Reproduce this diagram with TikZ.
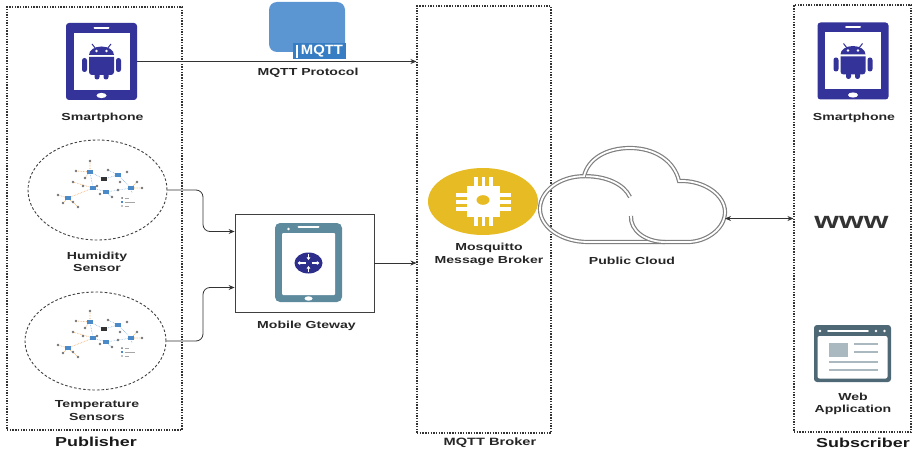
\documentclass[tikz,border=0pt]{standalone}
\usepackage{fontspec}
\setmainfont{Liberation Sans}[FakeStretch=1.38]
\newfontfamily\iconfont{Liberation Sans}[FakeStretch=1.1]
\usetikzlibrary{shapes.geometric,arrows.meta}

\definecolor{droid}{RGB}{51,51,153}
\definecolor{slate}{RGB}{94,138,158}
\definecolor{webslate}{RGB}{78,104,117}
\definecolor{webgrey}{RGB}{170,184,191}
\definecolor{mqttblue}{RGB}{92,150,210}
\definecolor{mqtttab}{RGB}{55,125,195}
\definecolor{gold}{RGB}{230,187,35}
\definecolor{navy}{RGB}{45,45,140}
\definecolor{netblue}{RGB}{74,138,200}
\definecolor{netorange}{RGB}{240,160,80}

\tikzset{
  frame/.style={draw=black!80, line width=1.1pt, dash pattern=on 1.4pt off 1.3pt},
  sensorzone/.style={ellipse, draw=black!75, line width=0.9pt, dash pattern=on 2.6pt off 2pt},
  lbl/.style={font=\bfseries\fontsize{10.2}{12.4}\selectfont, align=center, text=black!85, inner sep=0pt},
  biglbl/.style={font=\bfseries\fontsize{13}{15}\selectfont, inner sep=0pt, text=black!90},
  link/.style={draw=black!80, line width=0.8pt, -{Stealth[length=6pt,width=5pt]}},
  twoway/.style={draw=black!80, line width=0.8pt, {Stealth[length=6pt,width=5pt]}-{Stealth[length=6pt,width=5pt]}},
  cloudline/.style={draw=black!50, line width=1.2pt, double=white, double distance=1.8pt},
  ghost/.style={inner sep=0pt, outer sep=0pt},
  % tablet with the android robot
  android/.pic={
    \fill[droid, rounded corners=3pt] (-35.5,-38.5) rectangle (35.5,38.5);
    \fill[white] (-28,-28.5) rectangle (28,28.5);
    \draw[white, line width=2pt, line cap=round] (-7,-33.5) -- (7,-33.5);
    \fill[white] (0,34) ellipse [x radius=5, y radius=2.6];
    \fill[droid] (-12.5,-6.5) arc [start angle=180, end angle=360, x radius=12.5, y radius=8.5] -- cycle;
    \fill[white] (-5,-10.5) circle [radius=1.4] (5,-10.5) circle [radius=1.4];
    \draw[droid, line width=1pt] (-6,-13) -- (-9.5,-17.5) (6,-13) -- (9.5,-17.5);
    \fill[droid] (-12.5,-4.5) -- (12.5,-4.5) [rounded corners=3pt] -- (12.5,13.5) -- (-12.5,13.5) [sharp corners] -- cycle;
    \fill[droid, rounded corners=2.4pt] (-19.5,-3.5) rectangle (-14.5,10.5) (14.5,-3.5) rectangle (19.5,10.5);
    \fill[droid, rounded corners=2.4pt] (-7,10) rectangle (-2,18) (2,10) rectangle (7,18);
  },
  % phone acting as gateway, with the router glyph
  gatewayphone/.pic={
    \fill[slate, rounded corners=5pt] (-33.5,-39.5) rectangle (33.5,39.5);
    \fill[white, rounded corners=1pt] (-26.5,-29.5) rectangle (26.5,32.5);
    \draw[white, line width=2pt, line cap=round] (-10,-36) -- (10,-36);
    \fill[white] (-20,-33.5) circle [radius=1.3];
    \fill[white] (0,36) ellipse [x radius=4, y radius=2.2];
    \fill[navy] (0,0.5) ellipse [x radius=14, y radius=10.5];
    \draw[white, line width=1.1pt, -{Triangle[length=2.6pt,width=3.6pt]}] (0,-8.5) -- (0,-2.5);
    \draw[white, line width=1.1pt, -{Triangle[length=2.6pt,width=3.6pt]}] (0,9.5) -- (0,3.5);
    \draw[white, line width=1.1pt, -{Triangle[length=2.6pt,width=3.6pt]}] (-3,0.5) -- (-11,0.5);
    \draw[white, line width=1.1pt, -{Triangle[length=2.6pt,width=3.6pt]}] (3,0.5) -- (11,0.5);
  },
  % small sensor network sketch
  sensornet/.pic={
    \draw[netorange, densely dotted, line width=0.6pt]
      (-7,-18) -- (-7,-29) (-7,-18) -- (-21,-19) (-7,-18) -- (-12,-12)
      (-29,8) -- (-4,-2) (-29,8) -- (-19,17) (-29,8) -- (-39,5) (-29,8) -- (-34,13)
      (-4,-2) -- (-24,-8) (34,-2) -- (40,-8) (34,-2) -- (45,-2);
    \draw[netblue!70, densely dotted, line width=0.6pt]
      (-7,-18) -- (-4,-2) -- (9,2) -- (34,-2) -- (21,-15) -- (7,-11) -- (-7,-18)
      (9,2) -- (15,7) (21,-15) -- (11,-20) (34,-2) -- (35,3);
    \foreach \x/\y in {-7/-29,-21/-19,-12/-12,11/-20,30/-18,-24/-8,-14/-4,0/-4,3/4,15/7,21/0,40/-8,45/-2,-39/5,-34/13,-19/17,-24/12,23/-8}
      \fill[black!55, shift={(\x,\y)}] (0,0) circle [radius=1.4];
    \foreach \x/\y in {-7/-18,21/-15,-4/-2,9/2,34/-2,-29/8}
      \fill[netblue, shift={(\x,\y)}] (-2.8,-2.2) rectangle (2.8,2.2);
    \fill[black!80, shift={(7,-11)}] (-2.8,-2.2) rectangle (2.8,2.2);
    \fill[black!60] (25,8) circle [radius=1];
    \fill[netblue] (24,11) rectangle (26,13);
    \fill[black!50] (25,16) circle [radius=0.8];
    \draw[black!35, line width=0.4pt] (28,8) -- (32,8) (28,12) -- (38,12) (28,16) -- (32,16);
  },
}

\begin{document}
\begin{tikzpicture}[x=1pt, y=-1pt]
\useasboundingbox (0,0) rectangle (914,452);

% ---------- the three groups ----------
\node[frame, minimum width=175pt, minimum height=423pt] (pub) at (94.5,218.5) {};
\node[frame, minimum width=134pt, minimum height=427pt] (broker) at (484,219.5) {};
\node[frame, minimum width=117pt, minimum height=427pt] (sub) at (852.5,218.5) {};
\node[biglbl] (publbl) at (96,442) {Publisher};
\node[lbl, font=\bfseries\fontsize{10.6}{12}\selectfont] (brokerlbl) at (490,442.3) {MQTT Broker};
\node[biglbl] (sublbl) at (863,442.5) {Subscriber};

% ---------- publishers ----------
\node[ghost, minimum width=71pt, minimum height=77pt] (phoneL) at (101.5,61.5) {};
\pic at (phoneL.center) {android};
\node[lbl] (phoneLlbl) at (102.5,117.5) {Smartphone};

\node[sensorzone, minimum width=139pt, minimum height=100pt] (hum) at (97.5,190) {};
\pic at (97,190) {sensornet};
\node[lbl] (humlbl) at (97,261.7) {Humidity\\Sensor};

\node[sensorzone, minimum width=141pt, minimum height=98pt] (temp) at (95.5,341) {};
\pic at (97,340) {sensornet};
\node[lbl] (templbl) at (97,410.5) {Temperature\\Sensors};

% ---------- gateway ----------
\node[draw=black!75, line width=0.8pt, minimum width=139pt, minimum height=98pt] (gw) at (304.5,263) {};
\pic at (308.5,262.5) {gatewayphone};
\node[lbl] (gwlbl) at (306.5,326) {Mobile Gteway};

% ---------- MQTT protocol badge ----------
\fill[mqttblue, rounded corners=8pt] (269,2) rectangle (345,52);
\fill[mqtttab] (293,43) rectangle (346,59);
\node[font=\iconfont\bfseries\fontsize{13.5}{13.5}\selectfont, text=white, inner sep=0pt] (mqtttag) at (322,51.5) {MQTT};
\draw[white, line width=1.2pt] (297,45) -- (297,58);
\node[lbl] (protolbl) at (308,72.5) {MQTT Protocol};

% ---------- Mosquitto broker ----------
\node[ellipse, fill=gold, minimum width=110pt, minimum height=67pt, inner sep=0pt] (mosq) at (483,201.5) {};
\fill[white] (467,186) rectangle (500,217);
\foreach \px in {476,483.5,491} {
  \fill[white] (\px-1.7,177) rectangle (\px+1.7,186);
  \fill[white] (\px-1.7,217) rectangle (\px+1.7,226);
}
\foreach \py in {195,202,209} {
  \fill[white] (456,\py-1.7) rectangle (467,\py+1.7);
  \fill[white] (500,\py-1.7) rectangle (511,\py+1.7);
}
\fill[gold] (483,200) ellipse [x radius=6.5, y radius=4.8];
\node[lbl] (mosqlbl) at (489,254.5) {Mosquitto\\Message Broker};

% ---------- public cloud ----------
\node[ghost, minimum width=185pt, minimum height=96pt] (cloud) at (632.5,195) {};
\draw[cloudline] (688,242) -- (588,242)
  .. controls (561.5,242) and (540,227.2) .. (540,209)
  .. controls (540,190.8) and (560,176.2) .. (584,176.2)
  .. controls (588,159) and (606,148) .. (630,148)
  .. controls (654,148) and (674,160) .. (679,181)
  .. controls (704,180) and (725,195) .. (725,212)
  .. controls (725,229) and (706,242) .. (688,242) -- cycle;
\draw[cloudline] (586,176.2) .. controls (606,176.2) and (624,184) .. (630,197);
\draw[cloudline] (631,216) .. controls (630,230) and (645,242) .. (665,242);
\node[lbl] (cloudlbl) at (632,260.5) {Public Cloud};

% ---------- subscribers ----------
\node[ghost, minimum width=71pt, minimum height=77pt] (phoneR) at (853,61) {};
\pic at (phoneR.center) {android};
\node[lbl] (phoneRlbl) at (854,117.5) {Smartphone};
\node[font=\bfseries\fontsize{23}{23}\selectfont, text=black!80, inner sep=0pt] (www) at (851.5,222) {www};

\fill[webslate, rounded corners=3pt] (814,325) rectangle (891,382);
\fill[white, rounded corners=2pt] (817.5,336) rectangle (887.5,378.5);
\draw[white, line width=1.8pt, line cap=round] (828,331) -- (868,331);
\fill[white] (820,331) circle [radius=1.4] (876,331) circle [radius=1.4] (884.5,331) circle [radius=1.4];
\fill[webgrey] (829,343) rectangle (848,357);
\draw[webgrey, line width=2.2pt] (854,344) -- (878,344) (854,352) -- (878,352) (829,362) -- (878,362) (829,370) -- (878,370);
\node[lbl] (weblbl) at (853,404) {Web\\Application};

% ---------- connectors ----------
\draw[link] (phoneL.east) -- (phoneL.east -| broker.west);
\draw[link, rounded corners=7pt] (hum.east) -- (203,190) |- ([yshift=31.5pt]gw.west);
\draw[link, rounded corners=7pt] (temp.east) -- (203,341) |- ([yshift=-24.5pt]gw.west);
\draw[link] (gw.east) -- (gw.east -| broker.west);
\draw[twoway] (cloud.east |- sub.west) -- (sub.west);
\end{tikzpicture}
\end{document}
